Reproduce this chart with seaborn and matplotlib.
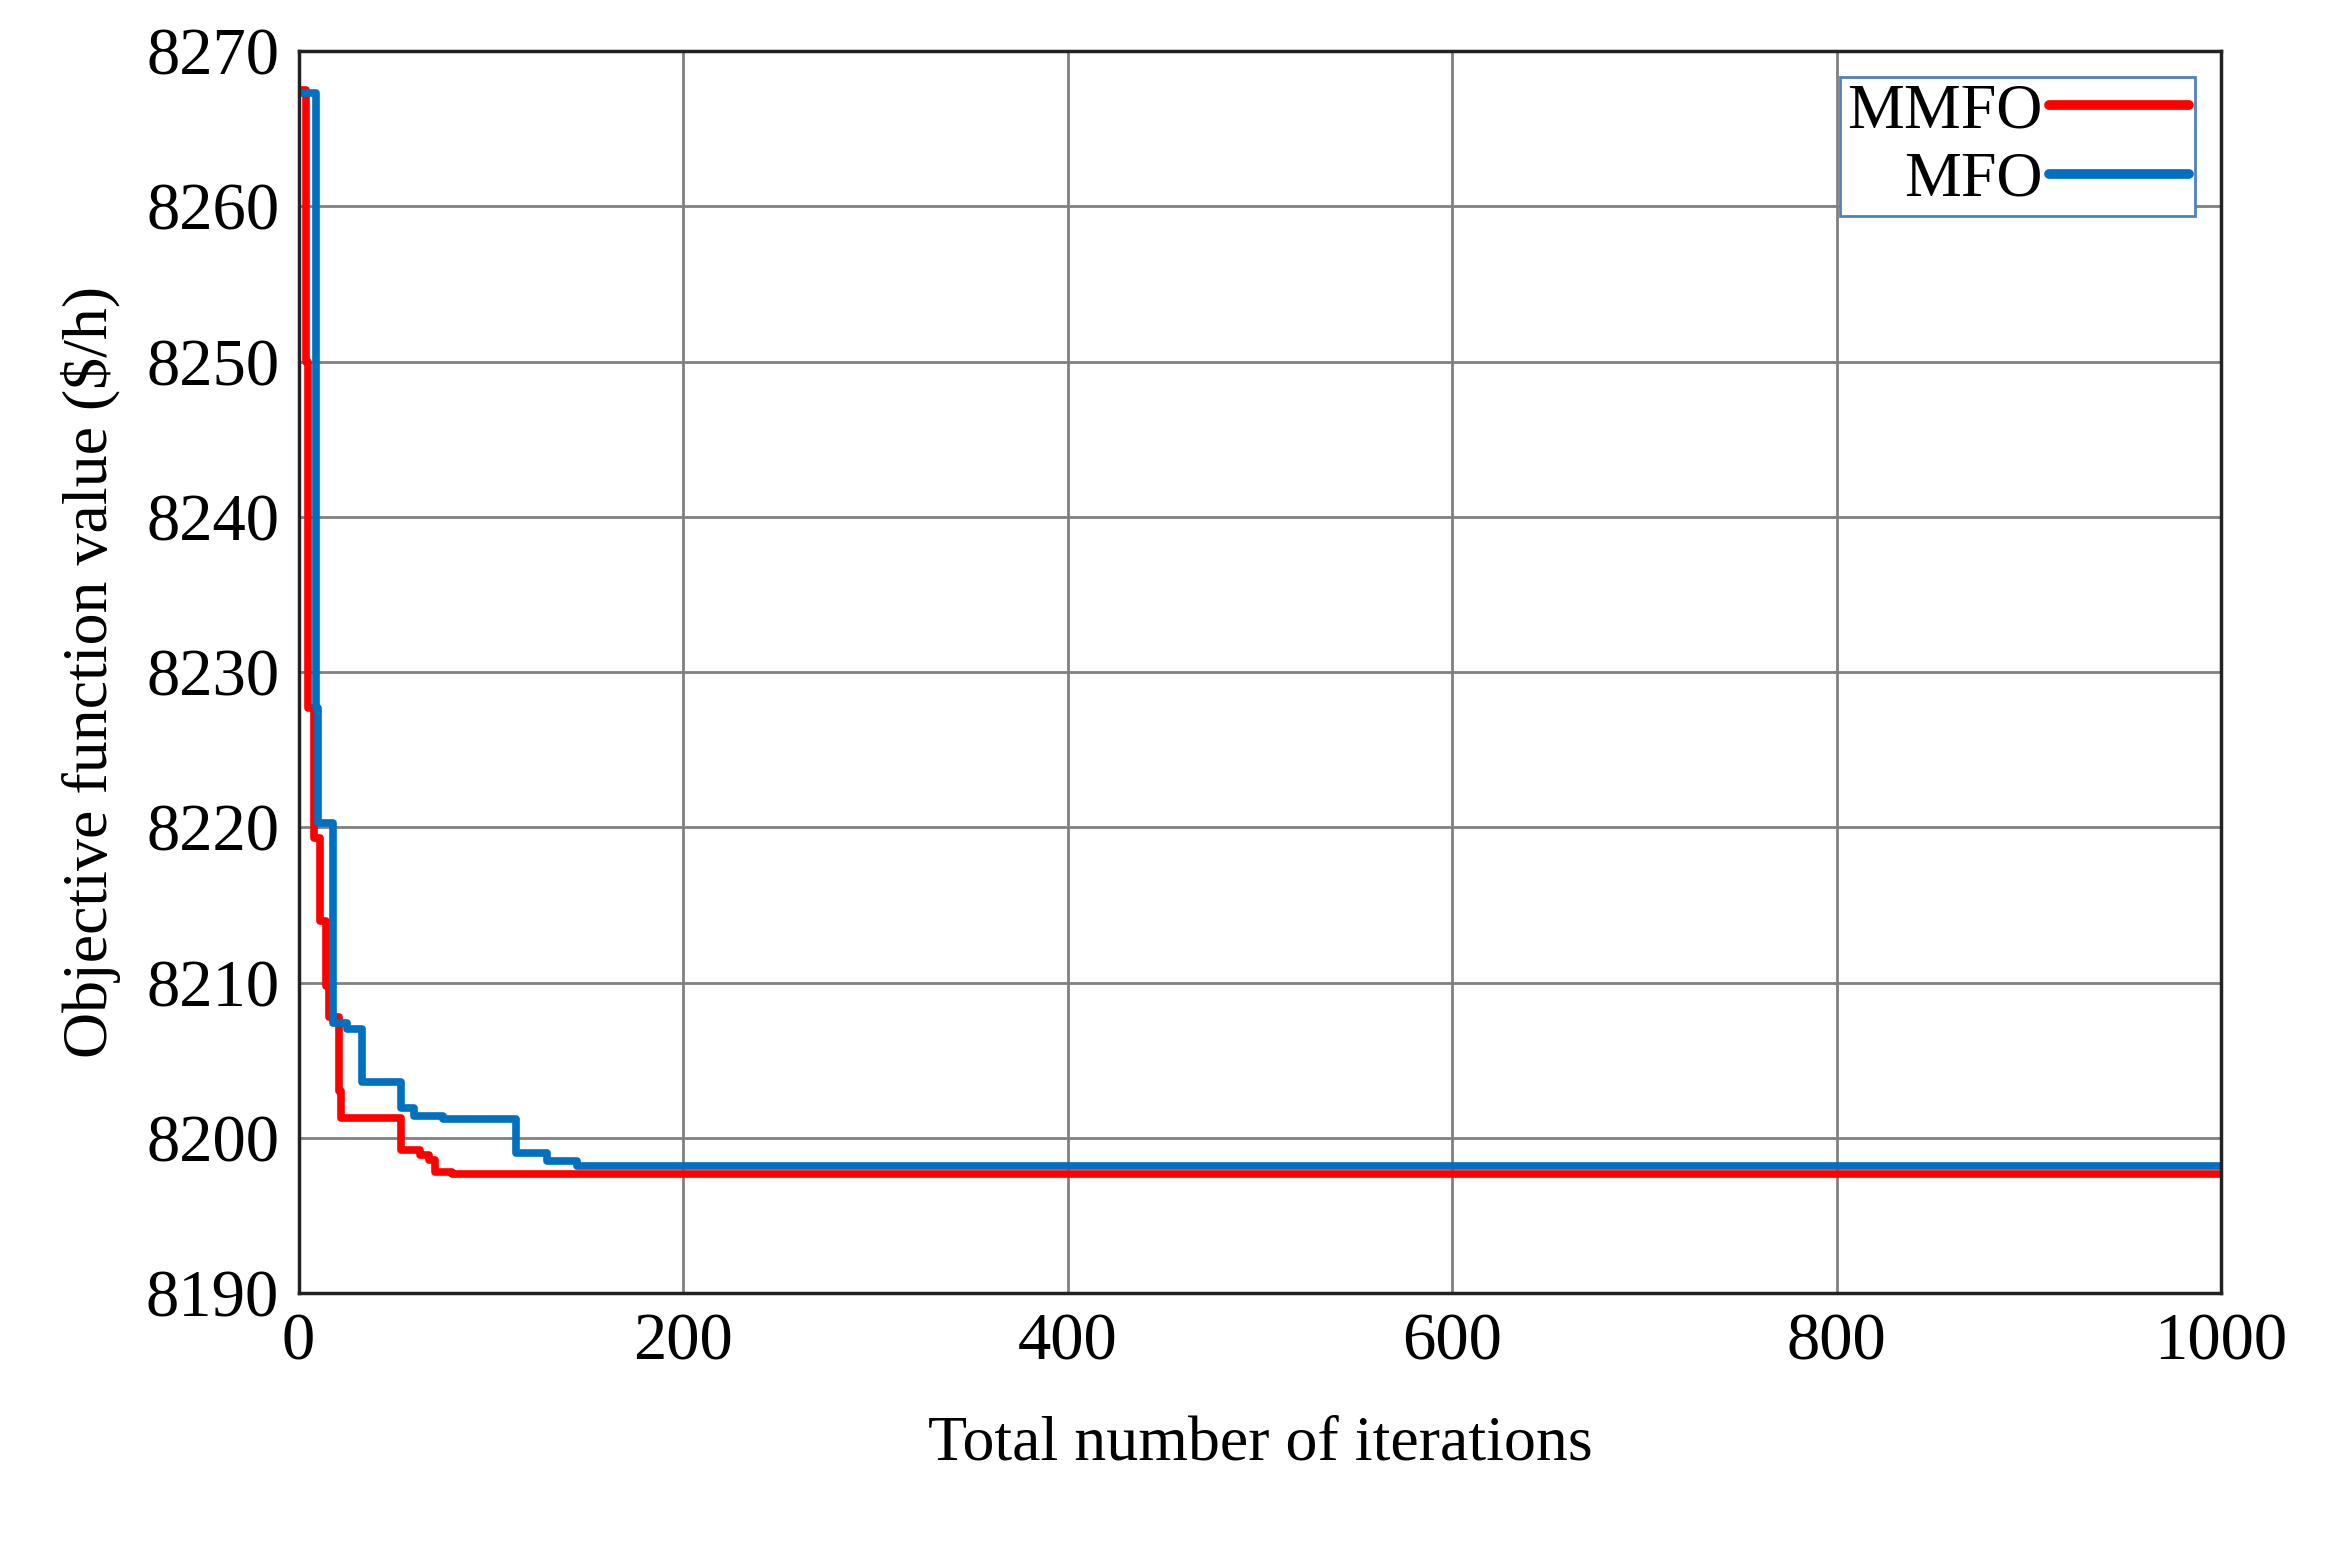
import seaborn as sns
import pandas as pd
import matplotlib.pyplot as plt

# step points (iteration, value)
mmfo_iter = [0, 1, 4, 5, 8, 11, 14, 16, 21, 22, 53, 63, 68, 71, 80, 1000]
mmfo_val = [8267.5, 8267.5, 8250, 8227.7, 8219.3, 8214, 8209.8, 8207.8, 8203, 8201.3,
            8199.2, 8198.9, 8198.6, 8197.8, 8197.7, 8197.7]
mfo_iter = [0, 8, 9, 10, 18, 25, 33, 53, 60, 75, 113, 129, 145, 1000]
mfo_val = [8267.3, 8267.3, 8227.7, 8220.3, 8207.4, 8207.0, 8203.6, 8201.9, 8201.4,
           8201.2, 8199.0, 8198.5, 8198.2, 8198.2]

df = pd.concat([
    pd.DataFrame({'iter': mmfo_iter, 'val': mmfo_val, 'alg': 'MMFO'}),
    pd.DataFrame({'iter': mfo_iter, 'val': mfo_val, 'alg': 'MFO'}),
])

sns.set_style('white')
plt.rcParams['font.family'] = ['Liberation Serif', 'DejaVu Serif']
plt.rcParams['text.color'] = 'black'
plt.rcParams['axes.labelcolor'] = 'black'
plt.rcParams['xtick.color'] = 'black'
plt.rcParams['ytick.color'] = 'black'

fig = plt.figure(figsize=(23.33, 15.45), dpi=100)
ax = fig.add_axes([0.128, 0.163, 0.824, 0.804])
sns.lineplot(data=df, x='iter', y='val', hue='alg', palette={'MMFO': '#ff0000', 'MFO': '#0070c0'},
             drawstyle='steps-post', linewidth=5.5, ax=ax, estimator=None, sort=False)

ax.set_xlim(0, 1000)
ax.set_ylim(8190, 8270)
ax.set_xticks(range(0, 1001, 200))
ax.set_yticks(range(8190, 8271, 10))
ax.grid(True, color='#808080', linewidth=2)
ax.tick_params(labelsize=48, direction='in', length=0, pad=14)
for s in ax.spines.values():
    s.set_linewidth(2.5)
    s.set_color('#222222')
ax.set_xlabel('Total number of iterations', fontsize=46, labelpad=30)
ax.set_ylabel('Objective function value ($/h)', fontsize=46, labelpad=18)

leg = ax.legend(title=None, loc='upper right', fontsize=46, markerfirst=False, handlelength=2.2,
                borderaxespad=0.4, framealpha=1, fancybox=False, handletextpad=0.1,
                labelspacing=0.15, borderpad=0.1)
leg.get_frame().set_edgecolor('#4f81bd')
leg.get_frame().set_linewidth(2)
for line in leg.get_lines():
    line.set_linewidth(7)

fig.savefig('out.png', dpi=100)
